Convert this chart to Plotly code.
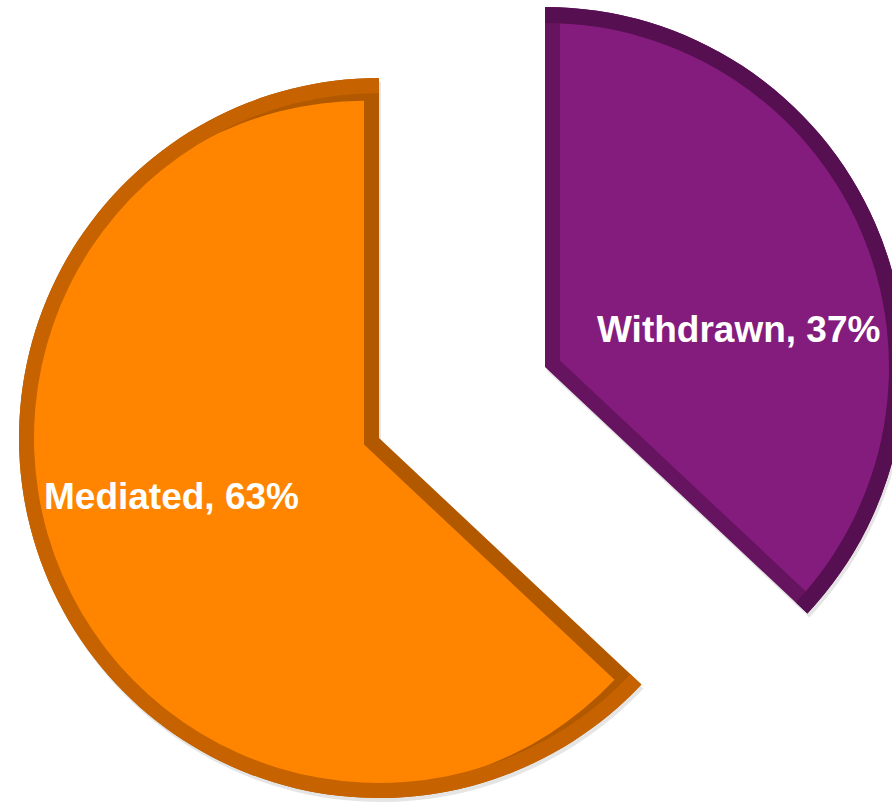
import math
import plotly.graph_objects as go

# ---- data ----
labels = ["Withdrawn", "Mediated"]
values = [37, 63]

# ---- style ----
face_colors = {"Withdrawn": "#841C7D", "Mediated": "#FF8500"}
edge_colors = {"Withdrawn": "#66145F", "Mediated": "#B25900"}
rim_colors = {"Withdrawn": "#560F51", "Mediated": "#C66300"}
rim_width = {"Withdrawn": 16, "Mediated": 15}
SHADOW = "rgba(0,0,0,0.10)"
# page-pixel geometry of each (exploded) slice: centre x, centre y, radius
geom = {"Mediated": (379, 438, 360), "Withdrawn": (545, 367, 360)}
label_pos = {"Mediated": (171, 496), "Withdrawn": (738, 329)}

W, H = 912, 802    # plot size (overflow past the 892px window is not shown)
BEVEL = 15
TRANSPARENT = "rgba(0,0,0,0)"


def domain(cx, cy, r):
    return dict(
        x=[max(0.0, (cx - r) / W), min(1.0, (cx + r) / W)],
        y=[max(0.0, 1 - (cy + r) / H), min(1.0, 1 - (cy - r) / H)],
    )


def slice_pie(target, color, cx, cy, r, hole=0.0):
    return go.Pie(
        labels=labels,
        values=values,
        sort=False,
        direction="clockwise",
        rotation=0,
        hole=hole,
        marker=dict(
            colors=[color if lab == target else TRANSPARENT for lab in labels],
            line=dict(width=0),
        ),
        textinfo="none",
        hoverinfo="skip",
        showlegend=False,
        domain=domain(cx, cy, r),
    )


total = sum(values)
shadows, layers = [], []
start = 0.0
for lab, val in zip(labels, values):
    span = 360.0 * val / total
    mid = math.radians(start + span / 2)
    half = math.radians(span / 2)
    cx, cy, r = geom[lab]
    shift = BEVEL / math.sin(half)
    fx = cx + shift * math.sin(mid)
    fy = cy - shift * math.cos(mid)
    fr = r - shift
    shadows.append(slice_pie(lab, SHADOW, cx + 2, cy + 4, r))
    layers.append(slice_pie(lab, edge_colors[lab], cx, cy, r))
    layers.append(slice_pie(lab, face_colors[lab], fx, fy, fr))
    layers.append(slice_pie(lab, rim_colors[lab], cx, cy, r,
                            hole=(r - rim_width[lab]) / r))
    start += span

fig = go.Figure(shadows + layers)

annotations = []
for lab, val in zip(labels, values):
    x, y = label_pos[lab]
    annotations.append(
        dict(
            text=f"{lab}, {val}%",
            x=x / W,
            y=1 - y / H,
            xref="paper",
            yref="paper",
            xanchor="center",
            yanchor="middle",
            showarrow=False,
            font=dict(family="Liberation Sans, Arial, sans-serif", size=37,
                      color="white", weight="bold"),
        )
    )

fig.update_layout(
    width=W,
    height=H,
    margin=dict(l=0, r=0, t=0, b=0),
    paper_bgcolor="white",
    plot_bgcolor="white",
    annotations=annotations,
)

fig.write_html(
    "out.html",
    config={"displayModeBar": False},
    post_script="document.body.style.margin='0px';"
                "document.documentElement.style.overflow='hidden';",
)
